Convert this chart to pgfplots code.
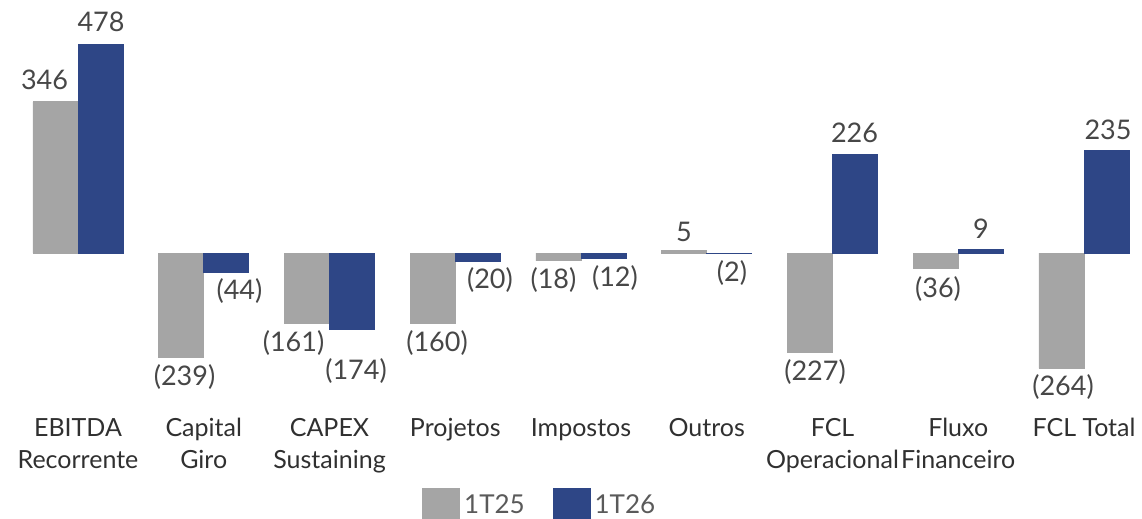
\documentclass[border=0pt]{standalone}
\usepackage{pgfplots}
\pgfplotsset{compat=1.18}
\usepackage{fontspec}
\setmainfont{Lato}

\definecolor{cinza}{HTML}{A5A5A5}
\definecolor{azul}{HTML}{2E4686}
\definecolor{txtval}{HTML}{474747}
\definecolor{txtcat}{HTML}{303030}
\definecolor{txtleg}{HTML}{5A5A5A}

% 1 px of the reference = 0.5pt
\begin{document}
\begin{tikzpicture}
\begin{axis}[
    scale only axis,
    width=571pt, height=259.5pt,
    xmin=-0.6203, xmax=8.4612,
    ymin=-608.7, ymax=579,
    hide axis,
    clip=false,
    ybar, bar width=0.358,
    legend columns=2,
    legend style={at={(axis cs:3.68,-579)}, anchor=center, draw=none, fill=none,
        font=\fontsize{13}{15}\selectfont\color{txtleg},
        /tikz/every even column/.append style={column sep=12pt}},
    legend image code/.code={\fill[#1] (0pt,-9pt) rectangle (18.5pt,9pt);},
]
\addplot[fill=cinza, draw=cinza, bar shift=-0.179] coordinates {
    (0,346) (1,-239) (2,-161) (3,-160) (4,-18) (5,5) (6,-227) (7,-36) (8,-264)};
\addlegendentry{1T25}
\addplot[fill=azul, draw=azul, bar shift=0.179] coordinates {
    (0,478) (1,-44) (2,-174) (3,-20) (4,-12) (5,-2) (6,226) (7,9) (8,235)};
\addlegendentry{1T26}

\coordinate (bl) at (rel axis cs:0,0);
\coordinate (tr) at (rel axis cs:1,1);

% value labels
\begin{scope}[every node/.style={font=\fontsize{13.5}{15}\selectfont, text=txtval, anchor=center}]
\node at (axis cs:-0.266,396) {346};
\node at (axis cs:0.183,528) {478};
\node at (axis cs:0.847,-284) {(239)};
\node at (axis cs:1.284,-87) {(44)};
\node at (axis cs:1.714,-206) {(161)};
\node at (axis cs:2.211,-270) {(174)};
\node at (axis cs:2.855,-206) {(160)};
\node at (axis cs:3.276,-62) {(20)};
\node at (axis cs:3.781,-62) {(18)};
\node at (axis cs:4.270,-57) {(12)};
\node at (axis cs:4.819,48) {5};
\node at (axis cs:5.201,-46) {(2)};
\node at (axis cs:5.861,-272) {(227)};
\node at (axis cs:6.175,275) {226};
\node at (axis cs:6.839,-82) {(36)};
\node at (axis cs:7.181,55) {9};
\node at (axis cs:7.833,-307) {(264)};
\node at (axis cs:8.191,281) {235};
\end{scope}

% category labels, one node per line, on baselines
\begin{scope}[every node/.style={font=\fontsize{12.5}{16}\selectfont, text=txtcat, anchor=base, inner sep=0pt}]
\node at (axis cs:0,-421) {EBITDA};
\node at (axis cs:0,-494) {Recorrente};
\node at (axis cs:1,-421) {Capital};
\node at (axis cs:1,-494) {Giro};
\node at (axis cs:2,-421) {CAPEX};
\node at (axis cs:2,-494) {Sustaining};
\node at (axis cs:3,-421) {Projetos};
\node at (axis cs:4,-421) {Impostos};
\node at (axis cs:5,-421) {Outros};
\node at (axis cs:6,-421) {FCL};
\node at (axis cs:6,-494) {Operacional};
\node at (axis cs:7,-421) {Fluxo};
\node at (axis cs:7,-494) {Financeiro};
\node at (axis cs:8,-421) {FCL Total};
\end{scope}
\end{axis}
\pgfresetboundingbox
\useasboundingbox (bl) rectangle (tr);
\end{tikzpicture}
\end{document}
